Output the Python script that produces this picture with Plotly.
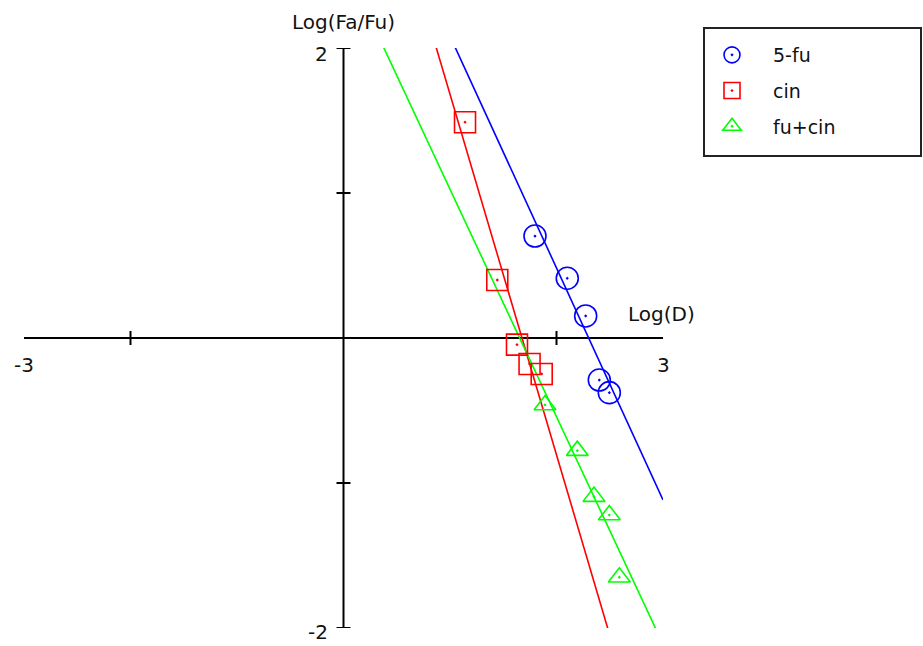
import plotly.graph_objects as go

# ---- data ----
series_names = ["5-fu", "cin", "fu+cin"]
series_colors = ["#0000FF", "#FF0000", "#00FF00"]

fu_x = [1.798, 2.101, 2.274, 2.402, 2.496]
fu_y = [0.703, 0.412, 0.152, -0.290, -0.377]

cin_x = [1.141, 1.444, 1.629, 1.747, 1.861]
cin_y = [1.488, 0.400, -0.046, -0.179, -0.248]

combo_x = [1.892, 2.195, 2.352, 2.496, 2.590]
combo_y = [-0.462, -0.777, -1.094, -1.221, -1.650]

# median-effect fit lines: slope m and x-intercept log(Dm)
fit_slope = [-1.599, -2.487, -1.569]
fit_logdm = [2.302, 1.676, 1.654]

x_range = [-3, 3]
y_range = [-2, 2]
x_tick_vals = [-2, 2]
y_tick_vals = [-2, -1, 1, 2]
x_label_vals = [-3, 3]
y_label_vals = [2, -2]

FONT = "DejaVu Sans"
fig = go.Figure()


def ypaper(v):
    return (v - y_range[0]) / (y_range[1] - y_range[0])


def xpaper(v):
    return (v - x_range[0]) / (x_range[1] - x_range[0])


pts = [(fu_x, fu_y), (cin_x, cin_y), (combo_x, combo_y)]
symbols = ["circle-open-dot", "square-open-dot", "triangle-up-open-dot"]
sizes = [22, 21, 19]

for i, (xs, ys) in enumerate(pts):
    lx = [x_range[0], x_range[1]]
    ly = [fit_slope[i] * (v - fit_logdm[i]) for v in lx]
    fig.add_trace(go.Scatter(x=lx, y=ly, mode="lines",
                             line=dict(color=series_colors[i], width=1.6),
                             showlegend=False, hoverinfo="skip"))
for i, (xs, ys) in enumerate(pts):
    fig.add_trace(go.Scatter(x=xs, y=ys, mode="markers", name=series_names[i],
                             legendgroup=series_names[i],
                             marker=dict(symbol=symbols[i], size=sizes[i],
                                         color=series_colors[i],
                                         line=dict(color=series_colors[i], width=1.6))))

shapes = []
ax = dict(color="#000000", width=2)
shapes.append(dict(type="line", xref="x", yref="y", x0=x_range[0], x1=x_range[1],
                   y0=0, y1=0, line=ax, layer="below"))
shapes.append(dict(type="line", xref="x", yref="y", x0=0, x1=0,
                   y0=y_range[0], y1=y_range[1], line=ax, layer="below"))
for t in y_tick_vals:
    shapes.append(dict(type="line", xref="x", yref="y", xsizemode="pixel", xanchor=0,
                       x0=-7, x1=7, y0=t, y1=t, line=ax, layer="below"))
for t in x_tick_vals:
    shapes.append(dict(type="line", xref="x", yref="y", ysizemode="pixel", yanchor=0,
                       y0=-7, y1=7, x0=t, x1=t, line=ax, layer="below"))
# legend frame
shapes.append(dict(type="rect", xref="paper", yref="paper",
                   x0=(704 - 24) / 639, x1=(921 - 24) / 639,
                   y0=(628 - 156) / 580, y1=(628 - 28) / 580,
                   line=dict(color="#222222", width=2)))

tf = dict(family=FONT, size=20, color="#111111")
ann = []
ann.append(dict(x=xpaper(0), y=ypaper(2.18), xref="paper", yref="paper", text="Log(Fa/Fu)",
                showarrow=False, xanchor="center", yanchor="middle", font=tf))
ann.append(dict(x=xpaper(2.99), y=ypaper(0.166), xref="paper", yref="paper", text="Log(D)",
                showarrow=False, xanchor="center", yanchor="middle", font=tf))
for v in x_label_vals:
    ann.append(dict(x=xpaper(v), y=ypaper(-0.186), xref="paper", yref="paper", text=str(v),
                    showarrow=False, xanchor="center", yanchor="middle", font=tf))
for v, yy in zip(y_label_vals, [1.959, -2.028]):
    ann.append(dict(x=xpaper(0), y=ypaper(yy), xref="paper", yref="paper", text=str(v),
                    showarrow=False, xanchor="right", yanchor="middle", xshift=-14, font=tf))

fig.update_layout(
    width=923, height=646,
    margin=dict(l=24, r=260, t=48, b=18, autoexpand=False),
    paper_bgcolor="white", plot_bgcolor="white",
    xaxis=dict(range=x_range, visible=False, fixedrange=True),
    yaxis=dict(range=y_range, visible=False, fixedrange=True),
    shapes=shapes, annotations=ann,
    showlegend=True,
    legend=dict(x=(691 - 24) / 639, y=(628 - 36) / 580, xanchor="left", yanchor="top",
                xref="paper", yref="paper",
                font=dict(family=FONT, size=19, color="#111111"),
                itemwidth=72, tracegroupgap=8, bgcolor="rgba(0,0,0,0)", borderwidth=0),
    font=dict(family=FONT),
)

fig.write_html("out.html", config={"displayModeBar": False},
               post_script="document.body.style.margin='0';document.body.style.overflow='hidden';")
